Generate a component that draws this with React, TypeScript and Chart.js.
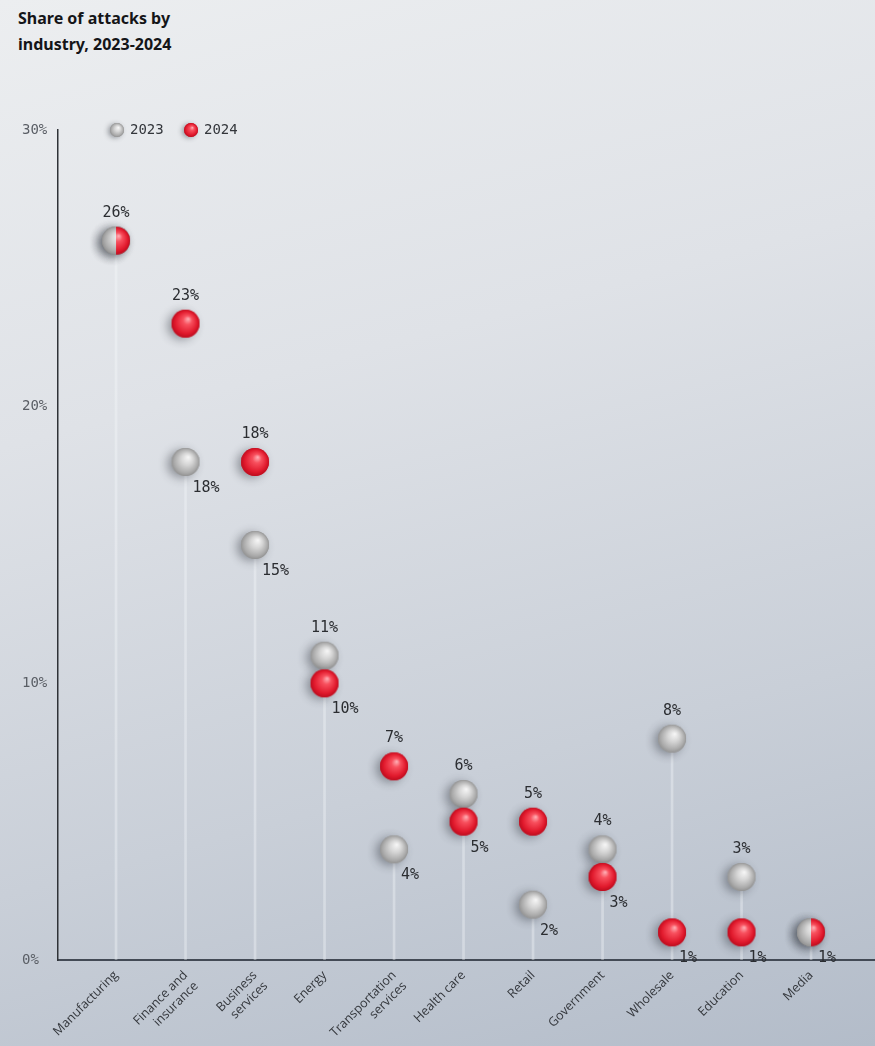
import React, { useEffect, useRef } from 'react';
import { Chart, registerables } from 'chart.js';

Chart.register(...registerables);

const titleLines = ['Share of attacks by', 'industry, 2023-2024'];
const industries: string[][] = [
  ['Manufacturing'],
  ['Finance and', 'insurance'],
  ['Business', 'services'],
  ['Energy'],
  ['Transportation', 'services'],
  ['Health care'],
  ['Retail'],
  ['Government'],
  ['Wholesale'],
  ['Education'],
  ['Media'],
];
const share2023 = [26, 18, 15, 11, 4, 6, 2, 4, 8, 3, 1];
const share2024 = [26, 23, 18, 10, 7, 5, 5, 3, 1, 1, 1];
const yTickValues = [0, 10, 20, 30];
const seriesNames = ['2023', '2024'];

const MONO = '"DejaVu Sans Mono", "Liberation Mono", monospace';

type Kind = 'gray' | 'red' | 'half';

function makeBall(r: number, kind: Kind): HTMLCanvasElement {
  const m = Math.ceil(r * 0.9) + 4;
  const size = (r + m) * 2;
  const c = document.createElement('canvas');
  c.width = size;
  c.height = size;
  const ctx = c.getContext('2d')!;
  const cx = size / 2;
  const cy = size / 2;
  ctx.save();
  ctx.shadowColor = 'rgba(50,55,65,0.45)';
  ctx.shadowBlur = r * 0.7;
  ctx.shadowOffsetX = -r * 0.3;
  ctx.shadowOffsetY = r * 0.15;
  ctx.beginPath();
  ctx.arc(cx, cy, r, 0, Math.PI * 2);
  ctx.fillStyle = kind === 'red' ? '#d8192b' : '#a0a0a0';
  ctx.fill();
  ctx.restore();
  const paint = (stops: [number, string][]) => {
    const g = ctx.createRadialGradient(cx + r * 0.2, cy - r * 0.35, 0, cx, cy, r * 1.05);
    stops.forEach(([o, col]) => g.addColorStop(o, col));
    ctx.fillStyle = g;
    ctx.beginPath();
    ctx.arc(cx, cy, r, 0, Math.PI * 2);
    ctx.fill();
  };
  const grayStops: [number, string][] = [
    [0, '#f8f8f8'],
    [0.4, '#d6d6d6'],
    [0.8, '#ababab'],
    [1, '#8e8e8e'],
  ];
  const redStops: [number, string][] = [
    [0, '#ffb4ba'],
    [0.3, '#f8505e'],
    [0.75, '#e11a2d'],
    [1, '#b70a1c'],
  ];
  if (kind === 'gray') paint(grayStops);
  else if (kind === 'red') paint(redStops);
  else {
    paint(grayStops);
    ctx.save();
    ctx.beginPath();
    ctx.rect(cx, 0, size, size);
    ctx.clip();
    paint(redStops);
    ctx.restore();
  }
  return c;
}

export default function App() {
  const canvasRef = useRef<HTMLCanvasElement | null>(null);

  useEffect(() => {
    const canvas = canvasRef.current;
    if (!canvas) return;
    const R = 14;
    const grayBall = makeBall(R, 'gray');
    const redBall = makeBall(R, 'red');
    const halfBall = makeBall(R, 'half');
    const legendGray = makeBall(7, 'gray');
    const legendRed = makeBall(7, 'red');

    const labelsPlugin = {
      id: 'valueLabels',
      afterDatasetsDraw(chart: any) {
        const { ctx, scales } = chart;
        const xs = scales.x;
        const ys = scales.y;
        ctx.save();
        ctx.font = `15px ${MONO}`;
        ctx.fillStyle = '#2b2d31';
        ctx.textBaseline = 'middle';
        industries.forEach((_, i) => {
          const a = share2023[i];
          const b = share2024[i];
          const x = xs.getPixelForValue(i);
          const drawAbove = (v: number) => {
            ctx.textAlign = 'center';
            ctx.fillText(v + '%', x, ys.getPixelForValue(v) - 28);
          };
          const drawBelow = (v: number) => {
            ctx.textAlign = 'left';
            ctx.fillText(v + '%', x + 7, ys.getPixelForValue(v) + 26);
          };
          if (a === b) {
            if (a > 5) drawAbove(a);
            else drawBelow(a);
          } else {
            drawAbove(Math.max(a, b));
            drawBelow(Math.min(a, b));
          }
        });
        // legend
        const top = ys.getPixelForValue(30);
        const items = [
          { img: legendGray, label: seriesNames[0], x: 117 },
          { img: legendRed, label: seriesNames[1], x: 191 },
        ];
        ctx.font = `14px ${MONO}`;
        ctx.fillStyle = '#33363b';
        ctx.textAlign = 'left';
        items.forEach((it) => {
          ctx.drawImage(it.img, it.x - it.img.width / 2, top - it.img.height / 2);
          ctx.fillText(it.label, it.x + 13, top);
        });
        ctx.restore();
      },
    };

    const chart = new Chart(canvas, {
      type: 'line',
      data: {
        datasets: [
          {
            type: 'bar',
            label: 'stem',
            data: share2023.map((v, i) => ({ x: i, y: v })),
            backgroundColor: 'rgba(248,249,251,0.36)',
            borderWidth: 0,
            barThickness: 2,
            order: 3,
          } as any,
          {
            label: seriesNames[0],
            data: share2023.map((v, i) => ({ x: i, y: v })),
            showLine: false,
            pointStyle: grayBall as any,
            pointRadius: R,
            pointHoverRadius: R,
            order: 2,
            clip: false as any,
          },
          {
            label: seriesNames[1],
            data: share2024.map((v, i) => ({ x: i, y: v })),
            showLine: false,
            pointStyle: ((ctx: any) =>
              share2023[ctx.dataIndex] === share2024[ctx.dataIndex] ? halfBall : redBall) as any,
            pointRadius: R,
            pointHoverRadius: R,
            order: 1,
            clip: false as any,
          },
        ],
      },
      options: {
        animation: false,
        responsive: true,
        maintainAspectRatio: false,
        events: [],
        layout: { autoPadding: false, padding: { top: 130, left: 22, right: 0, bottom: 0 } },
        plugins: {
          legend: { display: false },
          tooltip: { enabled: false },
          title: { display: false },
        },
        scales: {
          x: {
            type: 'linear',
            offset: false,
            bounds: 'data',
            min: -0.835,
            max: 10.92,
            grid: { display: false, drawTicks: false, offset: false },
            border: { display: true, color: '#434a55', width: 2 },
            afterBuildTicks: (scale: any) => {
              scale.ticks = industries.map((_, i) => ({ value: i }));
            },
            afterFit: (scale: any) => {
              scale.height = 86;
              scale.paddingLeft = 0;
              scale.paddingRight = 0;
            },
            ticks: {
              autoSkip: false,
              includeBounds: false,
              minRotation: 45,
              maxRotation: 45,
              padding: 8,
              color: '#34373c',
              font: { family: '"Open Sans", sans-serif', size: 12.5 },
              callback: (v: any) => industries[Math.round(Number(v))] ?? '',
            },
          },
          y: {
            type: 'linear',
            min: 0,
            max: 30,
            grid: { display: false, drawTicks: false },
            border: { display: true, color: '#2f3237', width: 1.5 },
            afterBuildTicks: (scale: any) => {
              scale.ticks = yTickValues.map((v) => ({ value: v }));
            },
            afterFit: (scale: any) => {
              scale.width = 36;
            },
            ticks: {
              crossAlign: 'far',
              color: '#5a5e65',
              font: { family: MONO, size: 14 },
              callback: (v: any) => v + '%',
            },
          },
        },
      },
      plugins: [labelsPlugin],
    } as any);

    return () => chart.destroy();
  }, []);

  return (
    <div
      style={{
        position: 'absolute',
        left: 0,
        top: 0,
        width: 875,
        height: 1046,
        background: 'linear-gradient(165deg, #eceef0 0%, #dfe2e7 35%, #c9cfd8 70%, #b3bcc9 100%)',
        overflow: 'hidden',
      }}
    >
      <div
        style={{
          position: 'absolute',
          left: 18,
          top: 5,
          fontFamily: '"Noto Sans", Inter, sans-serif',
          fontWeight: 700,
          fontSize: 16,
          lineHeight: '26px',
          color: '#141518',
        }}
      >
        {titleLines.map((t) => (
          <div key={t}>{t}</div>
        ))}
      </div>
      <canvas ref={canvasRef} style={{ position: 'absolute', left: 0, top: 0, width: 875, height: 1046 }} />
    </div>
  );
}
